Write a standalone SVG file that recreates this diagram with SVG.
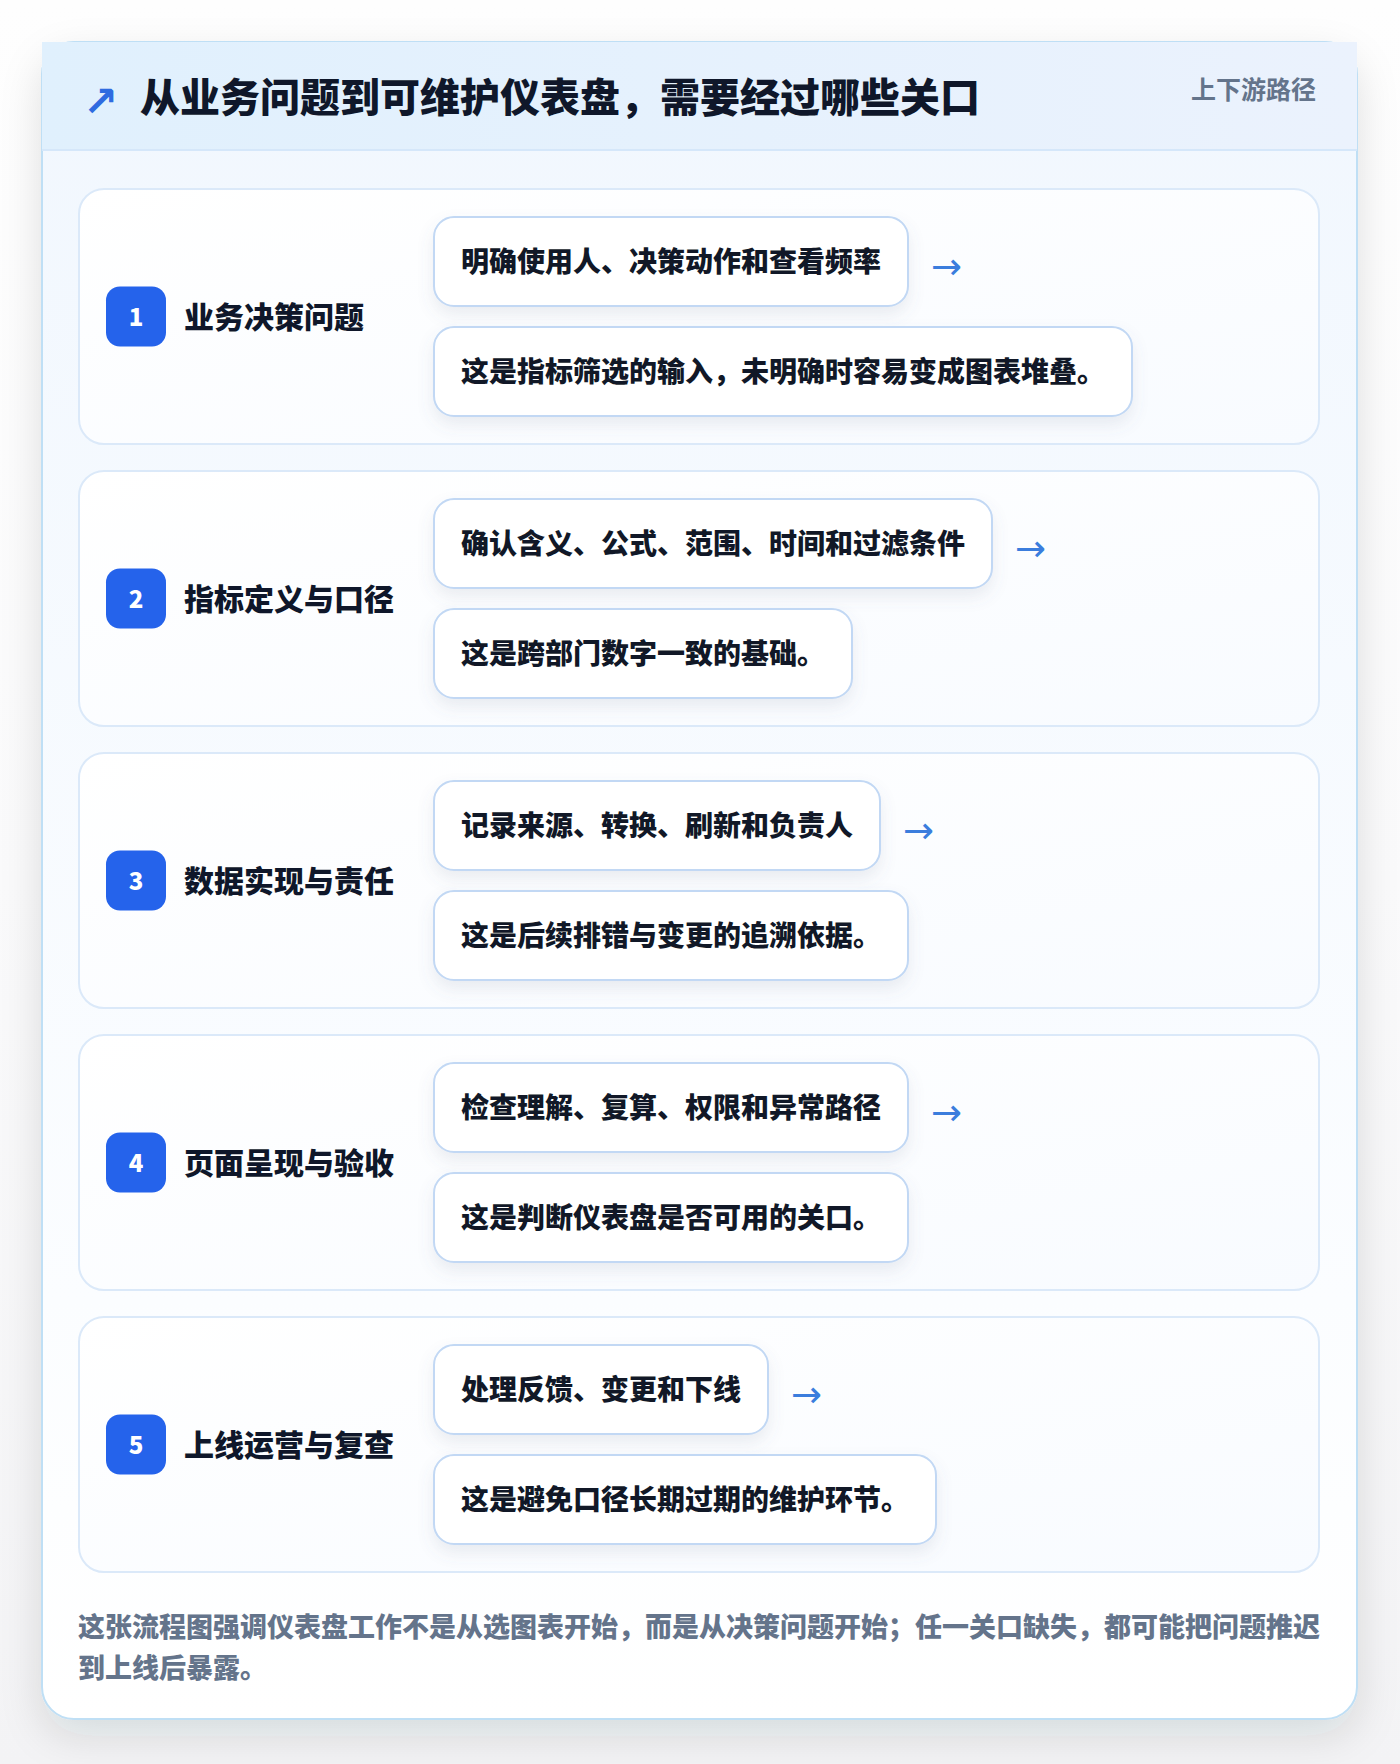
<svg xmlns="http://www.w3.org/2000/svg" width="1400" height="1764" viewBox="0 0 1400 1764">
<defs>
<linearGradient id="page" x1="0" y1="0" x2="0" y2="1"><stop offset="0" stop-color="#fefefe"/><stop offset="0.5" stop-color="#fafafb"/><stop offset="1" stop-color="#f3f3f5"/></linearGradient>
<linearGradient id="hdr" x1="0" y1="0" x2="1" y2="0"><stop offset="0" stop-color="#e0f0fd"/><stop offset="1" stop-color="#ebf2fd"/></linearGradient>
<linearGradient id="body" x1="0" y1="0" x2="0" y2="1"><stop offset="0" stop-color="#f1f7fe"/><stop offset="0.75" stop-color="#fbfdff"/><stop offset="1" stop-color="#ffffff"/></linearGradient>
<linearGradient id="cardg" x1="0" y1="0" x2="1" y2="1"><stop offset="0" stop-color="#ffffff"/><stop offset="1" stop-color="#f8fbff"/></linearGradient>
<filter id="outer" x="-10%" y="-10%" width="120%" height="120%"><feDropShadow dx="0" dy="16" stdDeviation="20" flood-color="#1e293b" flood-opacity="0.12"/></filter>
<filter id="pill" x="-10%" y="-30%" width="120%" height="170%"><feDropShadow dx="0" dy="8" stdDeviation="8" flood-color="#64748b" flood-opacity="0.12"/></filter>
<style>
.t{font-family:"Noto Sans CJK SC","Noto Sans",sans-serif;font-weight:700}
.title{font-size:40px;fill:#0f172a;font-weight:900}
.sub{font-size:25px;fill:#64748b}
.step{fill:url(#cardg);stroke:#dbe9f9;stroke-width:2}
.badge{fill:#2563eb}
.num{font-size:24px;fill:#ffffff;font-weight:900}
.stitle{font-size:30px;fill:#0f172a;font-weight:900}
.pill{fill:#ffffff;stroke:#c2d8f4;stroke-width:2;filter:url(#pill)}
.ptext{font-size:28px;fill:#111827;font-weight:900}
.arr{font-family:"DejaVu Sans",sans-serif;font-size:37px;fill:#3b7ddd}
.foot{font-size:27px;fill:#64748b;font-weight:900}
</style>
</defs>
<rect width="1400" height="1764" fill="url(#page)"/>
<g id="frame">
<rect x="42" y="42" width="1315" height="1677" rx="32" fill="url(#body)" stroke="#bfdff5" stroke-width="2" filter="url(#outer)"/>
<rect x="42" y="42" width="1315" height="108" fill="url(#hdr)"/>
<line x1="42" y1="150" x2="1357" y2="150" stroke="#d5e7fa" stroke-width="2"/>
<text x="83" y="116" font-size="42" font-weight="700" fill="#2f6be0" font-family="DejaVu Sans,sans-serif">↗</text>
<text class="t title" x="140" y="112">从业务问题到可维护仪表盘，需要经过哪些关口</text>
<text class="t sub" x="1316" y="99" text-anchor="end">上下游路径</text>
</g>
<g id="step1">
<rect class="step" x="79" y="189" width="1240" height="255" rx="25"/>
<rect class="badge" x="106" y="286.5" width="60" height="60" rx="14"/>
<text class="t num" x="136" y="325.5" text-anchor="middle">1</text>
<text class="t stitle" x="184" y="328">业务决策问题</text>
<rect class="pill" x="434" y="217" width="474" height="89" rx="20"/>
<text class="t ptext" x="461" y="271.5">明确使用人、决策动作和查看频率</text>
<rect class="pill" x="434" y="327" width="698" height="89" rx="20"/>
<text class="t ptext" x="461" y="381.5">这是指标筛选的输入，未明确时容易变成图表堆叠。</text>
</g>
<g id="step2">
<rect class="step" x="79" y="471" width="1240" height="255" rx="25"/>
<rect class="badge" x="106" y="568.5" width="60" height="60" rx="14"/>
<text class="t num" x="136" y="607.5" text-anchor="middle">2</text>
<text class="t stitle" x="184" y="610">指标定义与口径</text>
<rect class="pill" x="434" y="499" width="558" height="89" rx="20"/>
<text class="t ptext" x="461" y="553.5">确认含义、公式、范围、时间和过滤条件</text>
<rect class="pill" x="434" y="609" width="418" height="89" rx="20"/>
<text class="t ptext" x="461" y="663.5">这是跨部门数字一致的基础。</text>
</g>
<g id="step3">
<rect class="step" x="79" y="753" width="1240" height="255" rx="25"/>
<rect class="badge" x="106" y="850.5" width="60" height="60" rx="14"/>
<text class="t num" x="136" y="889.5" text-anchor="middle">3</text>
<text class="t stitle" x="184" y="892">数据实现与责任</text>
<rect class="pill" x="434" y="781" width="446" height="89" rx="20"/>
<text class="t ptext" x="461" y="835.5">记录来源、转换、刷新和负责人</text>
<rect class="pill" x="434" y="891" width="474" height="89" rx="20"/>
<text class="t ptext" x="461" y="945.5">这是后续排错与变更的追溯依据。</text>
</g>
<g id="step4">
<rect class="step" x="79" y="1035" width="1240" height="255" rx="25"/>
<rect class="badge" x="106" y="1132.5" width="60" height="60" rx="14"/>
<text class="t num" x="136" y="1171.5" text-anchor="middle">4</text>
<text class="t stitle" x="184" y="1174">页面呈现与验收</text>
<rect class="pill" x="434" y="1063" width="474" height="89" rx="20"/>
<text class="t ptext" x="461" y="1117.5">检查理解、复算、权限和异常路径</text>
<rect class="pill" x="434" y="1173" width="474" height="89" rx="20"/>
<text class="t ptext" x="461" y="1227.5">这是判断仪表盘是否可用的关口。</text>
</g>
<g id="step5">
<rect class="step" x="79" y="1317" width="1240" height="255" rx="25"/>
<rect class="badge" x="106" y="1414.5" width="60" height="60" rx="14"/>
<text class="t num" x="136" y="1453.5" text-anchor="middle">5</text>
<text class="t stitle" x="184" y="1456">上线运营与复查</text>
<rect class="pill" x="434" y="1345" width="334" height="89" rx="20"/>
<text class="t ptext" x="461" y="1399.5">处理反馈、变更和下线</text>
<rect class="pill" x="434" y="1455" width="502" height="89" rx="20"/>
<text class="t ptext" x="461" y="1509.5">这是避免口径长期过期的维护环节。</text>
</g>
<g id="connectors">
<text class="arr" x="931" y="279">→</text>
<text class="arr" x="1015" y="561">→</text>
<text class="arr" x="903" y="843">→</text>
<text class="arr" x="931" y="1125">→</text>
<text class="arr" x="791" y="1407">→</text>
</g>
<g id="footer">
<text class="t foot" x="78" y="1637">这张流程图强调仪表盘工作不是从选图表开始，而是从决策问题开始；任一关口缺失，都可能把问题推迟</text>
<text class="t foot" x="78" y="1678">到上线后暴露。</text>
</g>
</svg>
